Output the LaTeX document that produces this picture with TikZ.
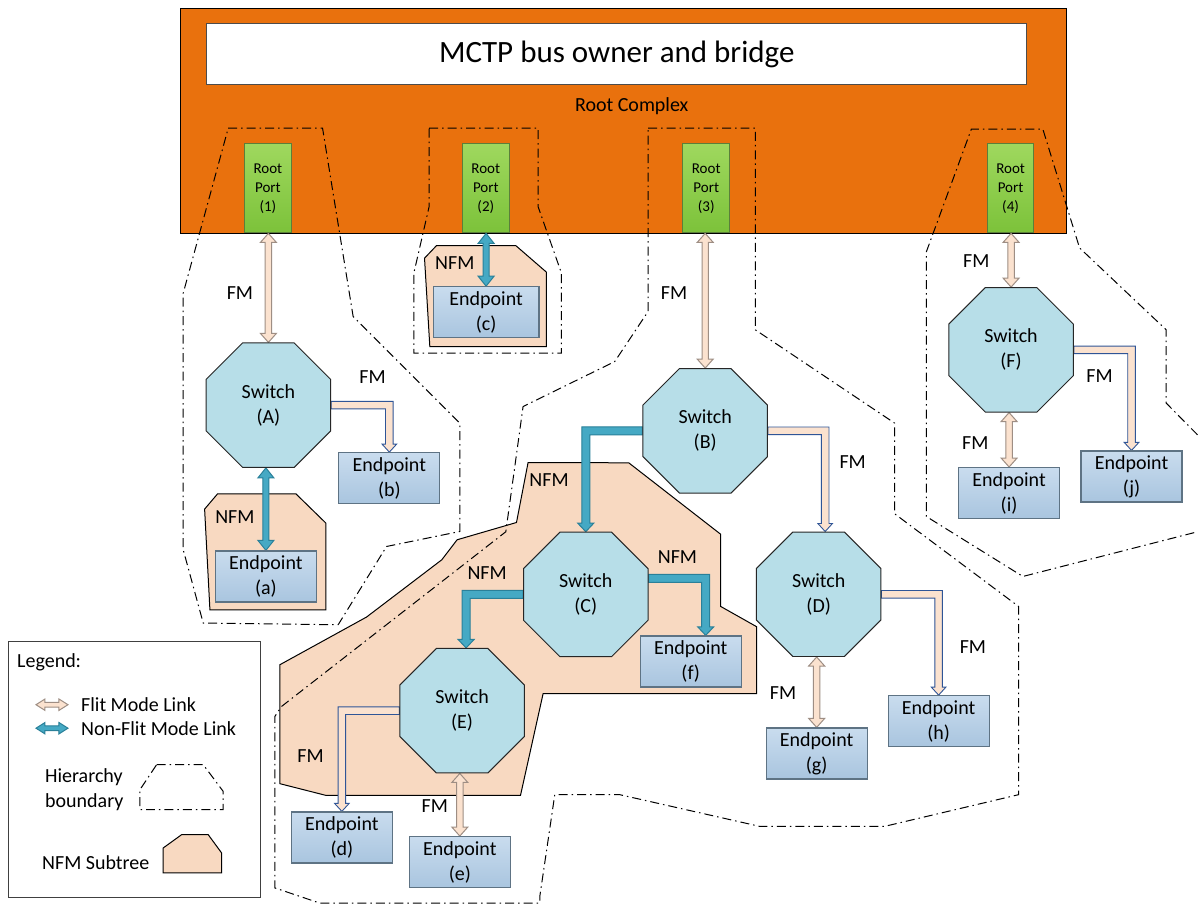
\documentclass[tikz,border=0pt]{standalone}
\usepackage{fontspec}
\setmainfont{Carlito}
\usetikzlibrary{shapes.geometric,calc}
\pgfdeclarelayer{back}
\pgfdeclarelayer{mid}
\pgfsetlayers{back,mid,main}
\definecolor{rcorange}{HTML}{E9710D}
\definecolor{rptop}{HTML}{9FD85E}
\definecolor{rpbot}{HTML}{7CC23A}
\definecolor{rpline}{HTML}{5B7F3A}
\definecolor{swfill}{HTML}{B7DEE8}
\definecolor{swline}{HTML}{262626}
\definecolor{eptop}{HTML}{C9DCEE}
\definecolor{epbot}{HTML}{A9C5DF}
\definecolor{epline}{HTML}{5E7384}
\definecolor{peach}{HTML}{F8D9C1}
\definecolor{fmfill}{HTML}{FBE2CF}
\definecolor{fmline}{HTML}{9E8E84}
\definecolor{fmblue}{HTML}{2F5597}
\definecolor{tealfill}{HTML}{45A9C4}
\definecolor{tealline}{HTML}{2A8099}
\newcommand{\myfont}{\fontsize{20}{25}\selectfont}
\newcommand{\myportfont}{\fontsize{15}{19}\selectfont}
\newcommand{\mytitlefont}{\fontsize{31}{36}\selectfont}
% vertical double arrow: style, half shaft, half head, head length, upper, lower
\newcommand{\vdarr}[6]{\path[#1] let \p1=(#5), \p2=(#6) in
  (\x2,\y1) -- ({\x2+#3},{\y1-#4}) -- ({\x2+#2},{\y1-#4}) -- ({\x2+#2},{\y2+#4}) -- ({\x2+#3},{\y2+#4}) --
  (\x2,\y2) -- ({\x2-#3},{\y2+#4}) -- ({\x2-#2},{\y2+#4}) -- ({\x2-#2},{\y1-#4}) -- ({\x2-#3},{\y1-#4}) -- cycle;}
% elbow arrow: style, half band, half head, head length, direction, start, tip
\newcommand{\elb}[7]{\path[#1] let \p1=(#6), \p2=(#7) in
  (\x1,{\y1+#2}) -- ({\x2+#5*#2},{\y1+#2}) -- ({\x2+#5*#2},{\y2+#4}) -- ({\x2+#5*#3},{\y2+#4}) --
  (\x2,\y2) -- ({\x2-#5*#3},{\y2+#4}) -- ({\x2-#5*#2},{\y2+#4}) -- ({\x2-#5*#2},{\y1-#2}) -- (\x1,{\y1-#2}) -- cycle;}
\tikzset{
  rcbox/.style={rectangle, minimum width=886pt, minimum height=224.5pt, inner sep=0pt, fill=rcorange, draw=black, line width=1pt},
  titlebox/.style={rectangle, minimum width=820pt, minimum height=61pt, inner sep=0pt, fill=white, draw=black!70, line width=1pt, font=\mytitlefont},
  rport/.style={rectangle, minimum width=46.5pt, minimum height=89pt, inner sep=0pt, top color=rptop, bottom color=rpbot, draw=rpline, line width=1pt, align=center, font=\myportfont},
  sw/.style={regular polygon, regular polygon sides=8, minimum size=134.8pt, inner sep=0pt, fill=swfill, draw=swline, line width=1pt, align=center, font=\myfont},
  ep/.style={rectangle, minimum width=101pt, minimum height=51pt, inner sep=0pt, top color=eptop, bottom color=epbot, draw=epline, line width=1.2pt, align=center, font=\myfont},
  lbl/.style={inner sep=0pt, font=\myfont},
  nfmtree/.style={fill=peach, draw=black, line width=1pt, line join=miter},
  hier/.style={draw=black, line width=1pt, dash pattern=on 9pt off 4pt on 1.5pt off 4pt},
  fmd/.style={fill=fmfill, draw=fmline, line width=1pt},
  fme/.style={fill=fmfill, draw=fmblue, line width=0.9pt},
  nfma/.style={fill=tealfill, draw=tealline, line width=1pt},
  legbox/.style={draw=black!75, line width=1pt, fill=white}
}
\begin{document}
\begin{tikzpicture}[x=1pt,y=-1pt]
\begin{pgfonlayer}{back}
\fill[white] (0,0) rectangle (1198,904);
\node[rcbox] (RC) at (624,121) {};
\node[titlebox] (T) at (617,54.5) {MCTP bus owner and bridge};
\node[lbl] (RCl) at (632,106) {Root Complex};
% NFM subtrees
\path[nfmtree] (204.7,509.3) -- (217.7,494) -- (296,494) -- (326,523.3) -- (326,610) -- (210,610) -- cycle;
\path[nfmtree] (424.7,258.3) -- (436.7,245.7) -- (516,245.7) -- (546.7,272.3) -- (546.7,346.7) -- (430,346.7) -- cycle;
\path[nfmtree] (528.3,462.7) -- (629,463) -- (721,534.5) -- (721,606.7) -- (757,627) -- (757,694) -- (543.3,694) -- (520.7,795.7) -- (326,795.7) -- (280,784) -- (280,665) -- (366.7,617.3) -- (442,560) -- (457.3,540) -- (516.7,522.7) -- cycle;
\end{pgfonlayer}
% nodes
\node[rport] (P1) at (268,188.5) {Root\\Port\\(1)};
\node[rport] (P2) at (486,188.5) {Root\\Port\\(2)};
\node[rport] (P3) at (706.5,188.5) {Root\\Port\\(3)};
\node[rport] (P4) at (1011,188.5) {Root\\Port\\(4)};
\node[sw] (A) at (268.5,405.3) {Switch\\(A)};
\node[sw] (B) at (705.5,431) {Switch\\(B)};
\node[sw] (C) at (586,594.7) {Switch\\(C)};
\node[sw] (D) at (819,594.5) {Switch\\(D)};
\node[sw] (E) at (462.3,711) {Switch\\(E)};
\node[sw] (F) at (1011.5,350) {Switch\\(F)};
\node[ep] (a) at (266,576.7) {Endpoint\\(a)};
\node[ep] (b) at (389.5,478.4) {Endpoint\\(b)};
\node[ep, minimum width=106pt] (c) at (486.3,312.4) {Endpoint\\(c)};
\node[ep] (d) at (342,837.8) {Endpoint\\(d)};
\node[ep] (e) at (460,862.5) {Endpoint\\(e)};
\node[ep] (f) at (691,661.7) {Endpoint\\(f)};
\node[ep] (g) at (817,753.8) {Endpoint\\(g)};
\node[ep] (h) at (939,721.5) {Endpoint\\(h)};
\node[ep] (i) at (1009.5,493.3) {Endpoint\\(i)};
\node[ep] (j) at (1132,476.7) {Endpoint\\(j)};
\begin{pgfonlayer}{mid}
% hierarchy boundaries
\draw[hier] (228.3,128.3) -- (322.7,128.3) -- (353.3,316.7) -- (460,423.3) -- (460,531.7) -- (386.7,546.7) -- (338.3,625) -- (203.3,623.3) -- (183.3,550) -- (183.3,293.3) -- cycle;
\draw[hier] (429.3,128.3) -- (538.3,128.3) -- (538.3,206.7) -- (561.7,273.3) -- (561.7,353.3) -- (414,353.3) -- (414,273.3) -- (429.3,206.7) -- cycle;
\draw[hier] (648.3,128.3) -- (755.7,128.3) -- (755.7,330) -- (895,423.3) -- (895,514) -- (1019,606.7) -- (1019,795) -- (885,826.7) -- (760,826.7) -- (620,795) -- (555,795) -- (540,897) -- (540,903.5) -- (320,903.5) -- (275,888.3) -- (275,716.7) -- (281.7,706.7) -- (506,532) -- (523.3,406.7) -- (615,361.7) -- (648.3,311.7) -- cycle;
\draw[hier] (1198,435) -- (1166.7,403.3) -- (1166.7,330) -- (1080,248) -- (1043.3,129.3) -- (971.7,129.3) -- (926.7,252) -- (926.7,516.7) -- (1023.3,576.7) -- (1198,532);
% flit mode double links
\vdarr{fmd}{3.2pt}{8pt}{9pt}{P1.south}{A.north}
\vdarr{fmd}{3.2pt}{8pt}{9pt}{P3.south}{B.north}
\vdarr{fmd}{3.2pt}{8pt}{9pt}{P4.south}{F.north}
\vdarr{fmd}{3.2pt}{8pt}{9pt}{F.south}{i.north}
\vdarr{fmd}{3.2pt}{8pt}{9pt}{D.south}{g.north}
\vdarr{fmd}{3.2pt}{8pt}{9pt}{E.south}{e.north}
% non-flit mode double links
\vdarr{nfma}{3pt}{8pt}{10pt}{P2.south}{c.north}
\vdarr{nfma}{3pt}{8pt}{10pt}{A.south}{a.north}
% flit mode elbows
\elb{fme}{3.8pt}{7.3pt}{8pt}{1}{A.east}{b.north}
\elb{fme}{3.8pt}{7.3pt}{8pt}{1}{B.east}{$(D.north)+(6.5,0)$}
\elb{fme}{3.8pt}{7.3pt}{8pt}{1}{D.east}{h.north}
\elb{fme}{3.8pt}{7.3pt}{8pt}{1}{F.east}{j.north}
\elb{fme}{3.8pt}{7.3pt}{8pt}{(-1)}{E.west}{d.north}
% non-flit mode elbows
\elb{nfma}{4pt}{8pt}{8.5pt}{(-1)}{B.west}{C.north}
\elb{nfma}{4pt}{8pt}{8.5pt}{1}{$(C.east)+(0,-16)$}{$(f.north)+(15,0)$}
\elb{nfma}{4pt}{8pt}{8.5pt}{(-1)}{C.west}{$(E.north)+(4,0)$}
\end{pgfonlayer}
% link labels
\node[lbl] (l1) at (240,293.3) {FM};
\node[lbl] (l2) at (372.7,377.3) {FM};
\node[lbl] (l3) at (235,517.3) {NFM};
\node[lbl] (l4) at (455,262.7) {NFM};
\node[lbl] (l5) at (674.3,293.3) {FM};
\node[lbl] (l6) at (549.3,480) {NFM};
\node[lbl] (l7) at (677.7,557.7) {NFM};
\node[lbl] (l8) at (487.3,573.3) {NFM};
\node[lbl] (l9) at (310.7,756) {FM};
\node[lbl] (l10) at (435,806) {FM};
\node[lbl] (l11) at (853,462) {FM};
\node[lbl] (l12) at (973.3,647.3) {FM};
\node[lbl] (l13) at (783.3,693.3) {FM};
\node[lbl] (l14) at (976.7,260.7) {FM};
\node[lbl] (l15) at (1100,376) {FM};
\node[lbl] (l16) at (975.7,443.3) {FM};
% legend
\draw[legbox] (9,641.7) rectangle (261,898);
\node[lbl, anchor=west] (lg) at (17,663) {Legend:};
\path[fmd] (36,705) -- (45,699.3) -- (45,702.7) -- (59,702.7) -- (59,699.3) -- (68,705) -- (59,710.7) -- (59,707.3) -- (45,707.3) -- (45,710.7) -- cycle;
\node[lbl, anchor=west] (lg1) at (81,705) {Flit Mode Link};
\path[nfma] (36,728.5) -- (45,722.8) -- (45,726.2) -- (59,726.2) -- (59,722.8) -- (68,728.5) -- (59,734.2) -- (59,730.8) -- (45,730.8) -- (45,734.2) -- cycle;
\node[lbl, anchor=west] (lg2) at (81,728.5) {Non-Flit Mode Link};
\node[lbl, anchor=west, align=left] (lg3) at (45,790) {Hierarchy\\boundary};
\draw[hier] (156.7,765) -- (203.3,765) -- (223.3,791.7) -- (223.3,810) -- (140,810) -- (140,790) -- cycle;
\node[lbl, anchor=west] (lg4) at (42,863) {NFM Subtree};
\path[nfmtree] (163.3,848.3) -- (181.7,835) -- (208.3,835) -- (221.7,853.3) -- (221.7,873.3) -- (163.3,873.3) -- cycle;
\end{tikzpicture}
\end{document}
